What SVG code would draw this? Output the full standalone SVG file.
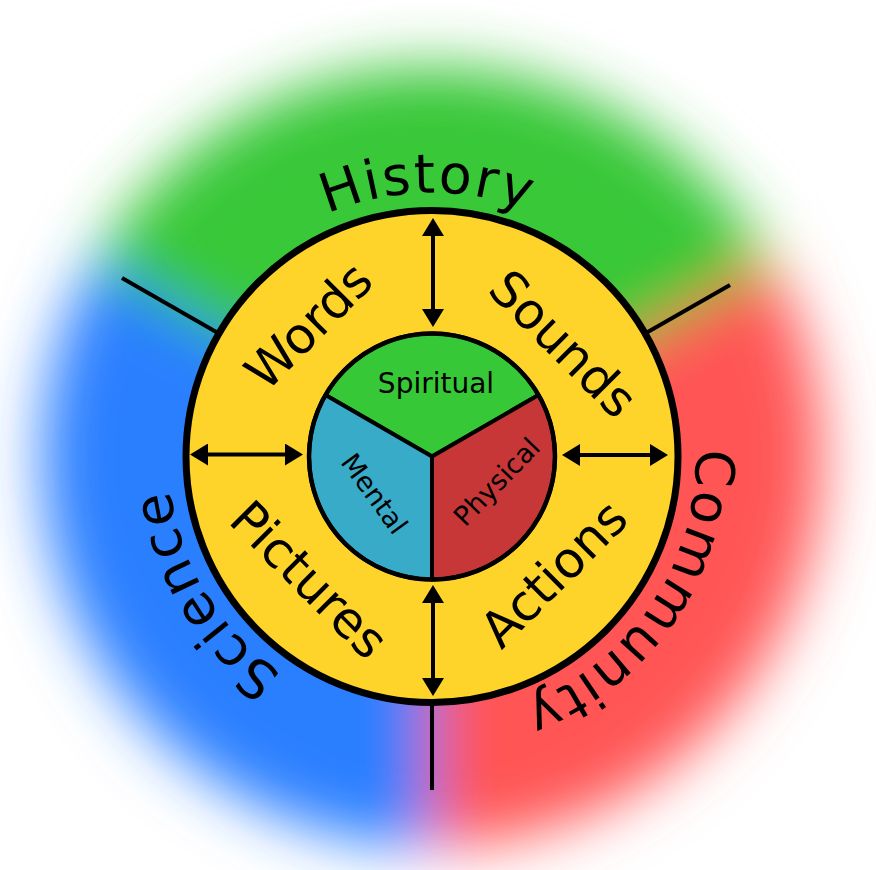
<svg xmlns="http://www.w3.org/2000/svg" width="876" height="870" viewBox="0 0 876 870">
  <style>
    .lbl { font-family: "DejaVu Sans", "Liberation Sans", sans-serif; fill: #000; }
    .outer { font-size: 54px; letter-spacing: 2px; }
    .ring { font-size: 50px; text-anchor: middle; }
    .core { font-size: 26px; text-anchor: middle; }
    .div { stroke: #000; stroke-width: 4; fill: none; }
    .arr { stroke: #000; stroke-width: 4; fill: none; marker-start: url(#ah); marker-end: url(#ah); }
    .seg { stroke: #000; stroke-width: 4; stroke-linejoin: round; }
  </style>
  <defs>
    <filter id="soft" filterUnits="userSpaceOnUse" x="0" y="0" width="876" height="870">
      <feGaussianBlur stdDeviation="30"/>
    </filter>
    <marker id="ah" markerUnits="userSpaceOnUse" markerWidth="18" markerHeight="22" viewBox="0 0 18 22" refX="14" refY="11" orient="auto-start-reverse">
      <path d="M0,0 L18,11 L0,22 Z" fill="#000"/>
    </marker>
    <!-- baseline arcs for the outer labels, radius 264 around the hub -->
    <path id="arcTop" d="M203.4,324.5 A264,264 0 0,1 660.6,324.5"/>
    <path id="arcRight" d="M660.6,324.5 A264,264 0 0,1 432,720.5"/>
    <path id="arcLeft" d="M432,720.5 A264,264 0 0,1 203.4,324.5"/>
  </defs>

  <!-- soft coloured field behind the wheel -->
  <g id="field" filter="url(#soft)">
    <path d="M432,456.5 L94.2,261.5 A390,390 0 0,1 769.8,261.5 Z" fill="#37c837"/>
    <path d="M432,456.5 L769.8,261.5 A390,390 0 0,1 432,846.5 Z" fill="#ff5555"/>
    <path d="M432,456.5 L432,846.5 A390,390 0 0,1 94.2,261.5 Z" fill="#2a7fff"/>
  </g>

  <g id="connectors">
    <line class="div" x1="122" y1="278" x2="218" y2="333"/>
    <line class="div" x1="730" y1="285" x2="646" y2="333"/>
    <line class="div" x1="432" y1="700" x2="432" y2="790"/>
  </g>

  <g id="ring">
    <circle cx="432" cy="456.5" r="246" fill="#ffd42a" stroke="#000" stroke-width="7"/>
  </g>

  <g id="ring-arrows">
    <line class="arr" x1="433" y1="222" x2="433" y2="323"/>
    <line class="arr" x1="433" y1="589" x2="433" y2="692"/>
    <line class="arr" x1="194" y1="454.5" x2="299" y2="454.5"/>
    <line class="arr" x1="566" y1="455" x2="664" y2="455"/>
  </g>

  <g id="core">
    <path class="seg" d="M432,456.5 L325.5,395 A123,123 0 0,1 538.5,395 Z" fill="#37c837"/>
    <path class="seg" d="M432,456.5 L538.5,395 A123,123 0 0,1 432,579.5 Z" fill="#c83737"/>
    <path class="seg" d="M432,456.5 L432,579.5 A123,123 0 0,1 325.5,395 Z" fill="#37abc8"/>
    <circle cx="432" cy="456.5" r="123" fill="none" stroke="#000" stroke-width="4.5"/>
  </g>

  <g id="spiritual"><text class="lbl core" x="436" y="393" style="font-size:28px">Spiritual</text></g>
  <g id="mental"><text class="lbl core" transform="translate(374,494) rotate(54)" x="0" y="9" style="font-size:27px">Mental</text></g>
  <g id="physical"><text class="lbl core" transform="translate(497,482) rotate(-46)" x="0" y="9" style="font-size:27px">Physical</text></g>

  <g id="words"><text class="lbl ring" transform="translate(309,326) rotate(-45)" x="0" y="17">Words</text></g>
  <g id="sounds"><text class="lbl ring" transform="translate(563,344) rotate(45)" x="0" y="17">Sounds</text></g>
  <g id="pictures"><text class="lbl ring" transform="translate(309,580) rotate(45)" x="0" y="17">Pictures</text></g>
  <g id="actions"><text class="lbl ring" transform="translate(554,574) rotate(-45)" x="0" y="17">Actions</text></g>

  <g id="history"><text class="lbl outer"><textPath href="#arcTop" startOffset="49.2%" text-anchor="middle">History</textPath></text></g>
  <g id="community"><text class="lbl outer"><textPath href="#arcRight" startOffset="53.5%" text-anchor="middle">Community</textPath></text></g>
  <g id="science"><text class="lbl outer"><textPath href="#arcLeft" startOffset="49%" text-anchor="middle">Science</textPath></text></g>
</svg>
